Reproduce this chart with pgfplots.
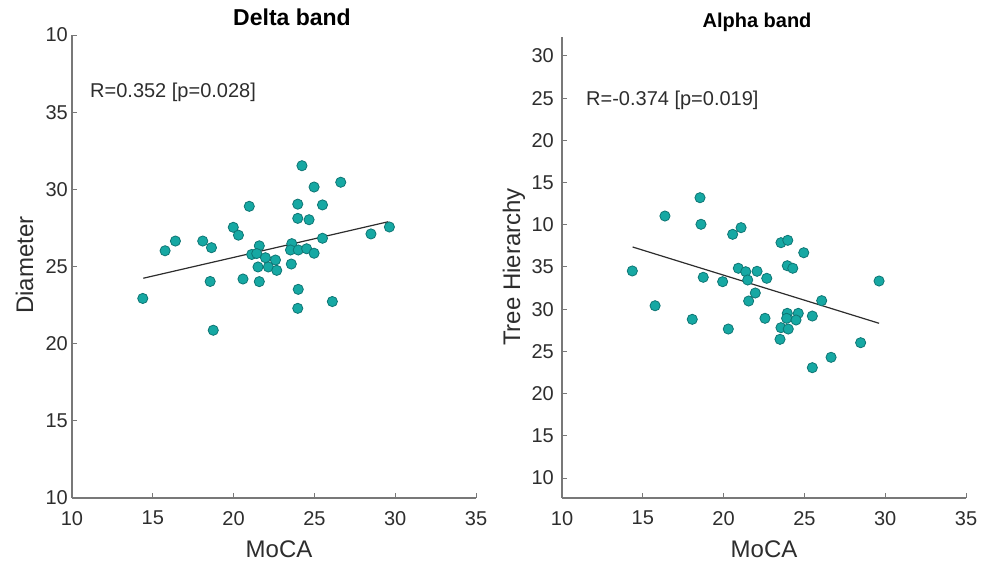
\documentclass[border=0pt]{standalone}
\usepackage{pgfplots}
\pgfplotsset{compat=1.18}
\usepackage{fontspec}
\setmainfont{Liberation Sans}
\definecolor{teal1}{RGB}{22,168,163}
\definecolor{teal2}{RGB}{15,118,116}
\definecolor{axgray}{RGB}{120,120,120}
\definecolor{txt}{RGB}{45,45,45}
\pgfplotsset{
  mystyle/.style={
    scale only axis,
    width=404pt,
    anchor=south west,
    axis x line*=bottom,
    axis y line*=left,
    axis line style={axgray, line width=1.1pt},
    tick style={axgray, line width=1pt},
    tick align=inside,
    major tick length=5pt,
    /pgf/number format/assume math mode=true,
    ticklabel style={font=\fontsize{20}{24}\selectfont, text=txt},
    xticklabel style={inner sep=0pt, yshift=-13pt},
    xmin=10, xmax=35, xtick={10,15,20,25,30,35},
    clip=false,
  },
  scat/.style={only marks, mark=*, mark size=5.1pt,
    mark options={fill=teal1, draw=teal2, line width=0.8pt}},
  fitl/.style={no marks, color={rgb,255:red,45;green,45;blue,45}, line width=1.2pt},
}
\begin{document}
\begin{tikzpicture}
\useasboundingbox (0,0) rectangle (992pt,563pt);
\begin{axis}[mystyle, at={(72pt,65pt)}, height=463pt,
  ymin=10, ymax=40, ytick={10,15,20,25,30,35,40},
  yticklabels={10,15,20,25,30,35,10},
  yticklabel style={inner sep=0pt, xshift=-4pt}]
\addplot[fitl] coordinates {(14.41,24.24) (29.57,27.90)};
\addplot[scat] coordinates {
(14.38,22.93) (15.76,26.02) (16.40,26.65) (18.09,26.65) (18.63,26.22)
(18.55,24.03) (18.74,20.87) (19.98,27.54) (20.30,27.03) (20.97,28.90)
(20.58,24.19) (21.59,26.34) (21.12,25.78) (21.43,25.84) (21.97,25.57)
(22.59,25.42) (21.51,24.97) (22.15,24.97) (22.67,24.75) (21.59,24.02)
(23.60,26.48) (23.52,26.07) (23.57,25.16) (24.00,26.07) (23.97,29.04)
(23.97,28.12) (24.23,31.53) (24.00,23.52) (23.97,22.29) (24.98,30.15)
(26.63,30.46) (25.50,28.99) (24.67,28.03) (25.50,26.83) (24.52,26.15)
(24.98,25.86) (26.11,22.73) (28.50,27.11) (29.64,27.56)};
\end{axis}
\begin{axis}[mystyle, at={(562pt,65pt)}, height=461pt,
  ymin=7.63, ymax=62.25, ytick={10,15,20,25,30,35,40,45,50,55,60},
  yticklabels={10,15,20,25,30,35,10,15,20,25,30},
  yticklabel style={inner sep=0pt, xshift=-8pt}]
\addplot[fitl] coordinates {(14.37,37.37) (29.62,28.33)};
\addplot[scat] coordinates {
(14.35,34.53) (15.76,30.41) (16.37,41.04) (18.06,28.80) (18.54,43.21)
(18.60,40.06) (18.74,33.78) (19.94,33.26) (20.29,27.65) (20.56,38.87)
(21.08,39.66) (20.91,34.85) (21.37,34.44) (22.07,34.49) (21.49,33.46)
(21.96,31.92) (21.55,30.97) (23.55,37.88) (23.97,38.16) (24.96,36.69)
(23.94,35.15) (24.28,34.85) (22.67,33.66) (29.62,33.34) (26.07,31.01)
(22.56,28.92) (23.94,29.51) (24.62,29.51) (23.90,28.92) (24.48,28.72)
(25.49,29.19) (23.55,27.81) (24.00,27.65) (23.49,26.43) (28.48,26.03)
(26.65,24.30) (25.49,23.07)};
\end{axis}
\node[anchor=base, inner sep=0pt, font=\bfseries\fontsize{23}{27}\selectfont] at (292pt,537pt) {Delta band};
\node[anchor=base, inner sep=0pt, font=\bfseries\fontsize{20}{24}\selectfont] at (757pt,535pt) {Alpha band};
\node[anchor=base west, inner sep=0pt, text=txt, font=\fontsize{20}{24}\selectfont] at (90pt,465pt) {R=0.352 [p=0.028]};
\node[anchor=base west, inner sep=0pt, text=txt, font=\fontsize{20}{24}\selectfont] at (586pt,457pt) {R=-0.374 [p=0.019]};
\node[anchor=base, inner sep=0pt, text=txt, font=\fontsize{24}{28}\selectfont] at (279pt,6pt) {MoCA};
\node[anchor=base, inner sep=0pt, text=txt, font=\fontsize{24}{28}\selectfont] at (764pt,6pt) {MoCA};
\node[anchor=base, rotate=90, inner sep=0pt, text=txt, font=\fontsize{24}{28}\selectfont] at (33pt,298pt) {Diameter};
\node[anchor=base, rotate=90, inner sep=0pt, text=txt, font=\fontsize{24}{28}\selectfont] at (520pt,296pt) {Tree Hierarchy};
\end{tikzpicture}
\end{document}
